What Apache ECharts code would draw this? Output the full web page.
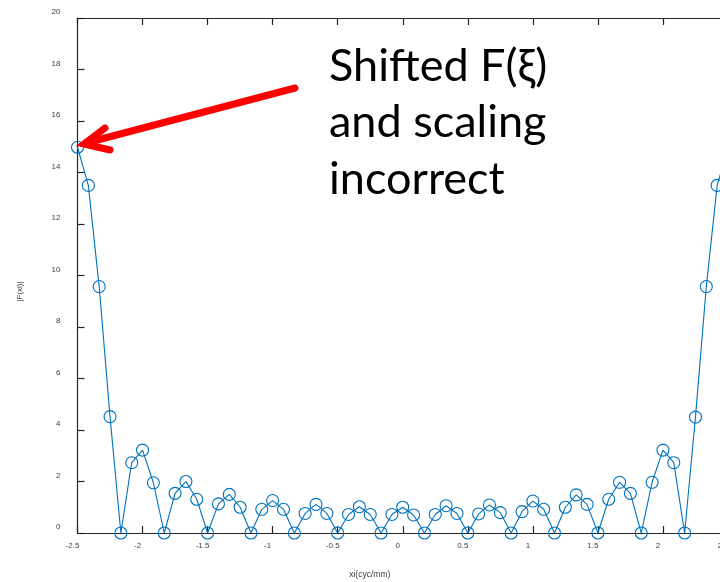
<!DOCTYPE html>
<html>
<head>
<meta charset="utf-8">
<script src="https://cdn.jsdelivr.net/npm/echarts@6/dist/echarts.min.js"></script>
<style>html,body{margin:0;padding:0;background:#fff;}#c{width:720px;height:582px;}</style>
</head>
<body>
<div id="c"></div>
<script>
// x positions (cyc/mm)
var xi = [-2.5, -2.4167, -2.3333, -2.25, -2.1667, -2.0833, -2, -1.9167, -1.8333, -1.75,
  -1.6667, -1.5833, -1.5, -1.4167, -1.3333, -1.25, -1.1667, -1.0833, -1, -0.9167,
  -0.8333, -0.75, -0.6667, -0.5833, -0.5, -0.4167, -0.3333, -0.25, -0.1667, -0.0833,
  0, 0.0833, 0.1667, 0.25, 0.3333, 0.4167, 0.5, 0.5833, 0.6667, 0.75,
  0.8333, 0.9167, 1, 1.0833, 1.1667, 1.25, 1.3333, 1.4167, 1.5, 1.5833,
  1.6667, 1.75, 1.8333, 1.9167, 2, 2.0833, 2.1667, 2.25, 2.3333, 2.4167, 2.5];
// |F(xi)| values
var Fmag = [14.98, 13.5, 9.57, 4.52, 0, 2.73, 3.22, 1.95, 0, 1.54,
  2.0, 1.31, 0, 1.13, 1.5, 1.0, 0, 0.92, 1.26, 0.92,
  0, 0.76, 1.11, 0.76, 0, 0.72, 1.02, 0.72, 0, 0.72,
  1.0, 0.70, 0, 0.72, 1.06, 0.76, 0, 0.74, 1.09, 0.79,
  0, 0.83, 1.24, 0.92, 0, 1.0, 1.48, 1.11, 0, 1.31,
  1.97, 1.54, 0, 1.97, 3.22, 2.73, 0, 4.5, 9.57, 13.5, 14.98];
var annotationLines = ['Shifted F(\u03BE)', 'and scaling', 'incorrect'];
var xName = 'xi(cyc/mm)';
var yName = '|F(xi)|';

var pts = xi.map(function (x, i) { return [x, Fmag[i]]; });
var axisCol = '#262626';
var labelStyle = { fontFamily: 'Liberation Sans, Arial', fontSize: 8, color: '#404040' };

var chart = echarts.init(document.getElementById('c'));
chart.setOption({
  animation: false,
  backgroundColor: '#fff',
  grid: { left: 77.5, top: 18, width: 650.5, height: 515, containLabel: false, outerBoundsMode: 'none' },
  xAxis: [{
    type: 'value', min: -2.5, max: 2.5, interval: 0.5,
    name: xName, nameLocation: 'middle', nameGap: 37,
    nameTextStyle: { fontFamily: 'Liberation Sans, Arial', fontSize: 8.5, color: '#404040', padding: [0, 66, 0, 0] },
    axisLine: { show: true, onZero: false, lineStyle: { color: axisCol, width: 1.2 } },
    axisTick: { show: true, inside: true, length: 7, lineStyle: { color: axisCol, width: 1.2 } },
    axisLabel: Object.assign({ margin: 9, padding: [0, 10, 0, 0] }, labelStyle),
    splitLine: { show: false }
  }, {
    type: 'value', min: -2.5, max: 2.5, interval: 0.5, position: 'top',
    axisLine: { show: true, onZero: false, lineStyle: { color: axisCol, width: 1.2 } },
    axisTick: { show: true, inside: true, length: 7, lineStyle: { color: axisCol, width: 1.2 } },
    axisLabel: { show: false },
    splitLine: { show: false }
  }],
  yAxis: [{
    type: 'value', min: 0, max: 20, interval: 2,
    name: yName, nameLocation: 'middle', nameGap: 54, nameRotate: 90,
    nameTextStyle: { fontFamily: 'Liberation Sans, Arial', fontSize: 8, color: '#404040', padding: [0, 32, 0, 0] },
    axisLine: { show: true, onZero: false, lineStyle: { color: axisCol, width: 1.2 } },
    axisTick: { show: true, inside: true, length: 7, lineStyle: { color: axisCol, width: 1.2 } },
    axisLabel: Object.assign({ margin: 17, verticalAlign: 'bottom', padding: [0, 0, 2, 0] }, labelStyle),
    splitLine: { show: false }
  }],
  series: [{
    type: 'line',
    data: pts,
    symbol: 'circle',
    symbolSize: 12,
    showAllSymbol: true,
    clip: false,
    lineStyle: { color: '#0072BD', width: 1.1 },
    itemStyle: { color: 'rgba(0,0,0,0)', borderColor: '#0072BD', borderWidth: 1.1 }
  }],
  graphic: [
    { type: 'line', shape: { x1: 295, y1: 88, x2: 86, y2: 143 }, style: { stroke: '#ff0000', lineWidth: 7, lineCap: 'round' }, z: 100 },
    { type: 'polyline', shape: { points: [[105, 128], [84, 144], [110, 150]] }, style: { stroke: '#ff0000', fill: null, lineWidth: 7, lineCap: 'round', lineJoin: 'miter' }, z: 100 },
    { type: 'text', left: 329, top: 44, style: { text: annotationLines[0], font: '45px Lato', fill: '#000' }, z: 100 },
    { type: 'text', left: 329, top: 100, style: { text: annotationLines[1], font: '45px Lato', fill: '#000' }, z: 100 },
    { type: 'text', left: 329, top: 157, style: { text: annotationLines[2], font: '45px Lato', fill: '#000' }, z: 100 }
  ]
});
</script>
</body>
</html>
